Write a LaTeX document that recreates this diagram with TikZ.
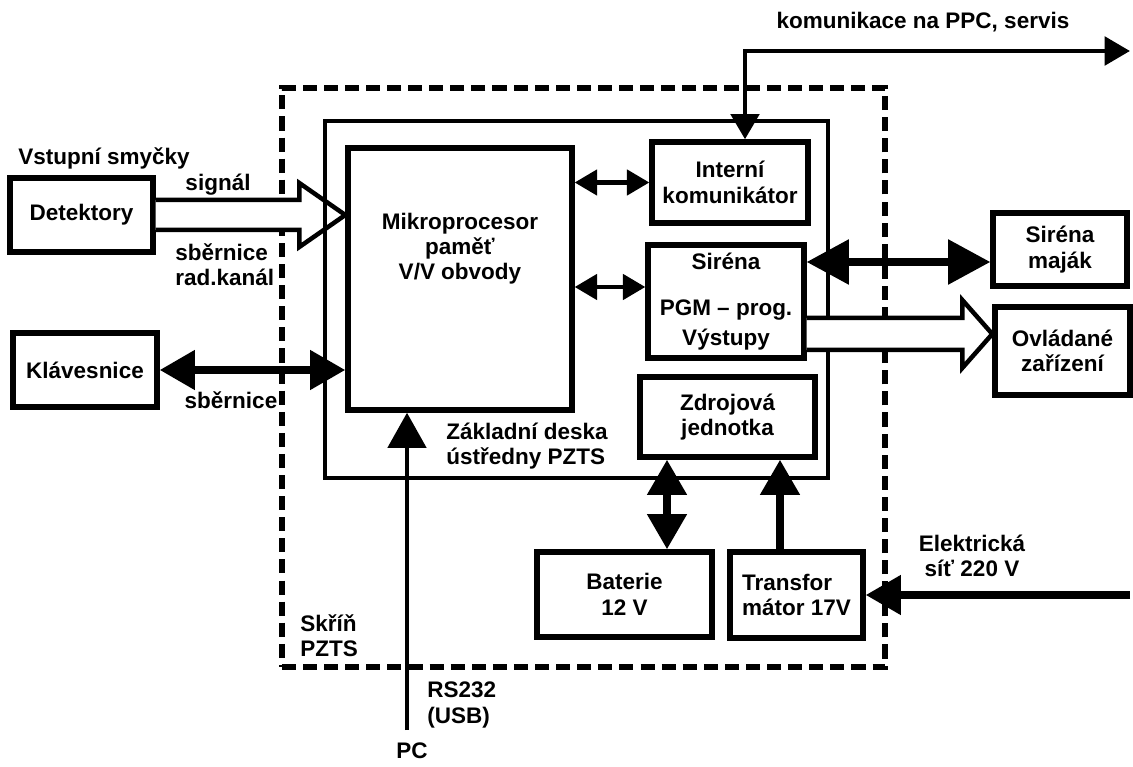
\documentclass[tikz,border=0pt]{standalone}
\usepackage{fontspec}
\setmainfont{Liberation Sans}
\usetikzlibrary{arrows.meta,positioning,calc}

\begin{document}
\begin{tikzpicture}[x=0.025cm, y=-0.025cm,
    font=\bfseries\fontsize{16}{18}\selectfont,
    box/.style={draw, line width=3.8pt, align=center, inner sep=2pt},
    txt/.style={inner sep=0pt, align=center},
    skrinbox/.style={draw, line width=4.5pt, dash pattern=on 10pt off 5pt},
    deskabox/.style={draw, line width=3.2pt},
    fat/.style={draw, fill=white, line width=3.2pt, line join=miter},
    heavy/.style={line width=5.5pt},
    bigtip/.tip={Triangle[length=25pt, width=27pt]},
    smalltip/.tip={Triangle[length=16pt, width=18pt]},
    comtip/.tip={Triangle[length=18pt, width=20pt]},
    sirtip/.tip={Triangle[length=30pt, width=31pt]}]
    \useasboundingbox (0,0) rectangle (1133,767);

    % housing
    \node[skrinbox, minimum width=15.075cm, minimum height=14.475cm] (skrin) at (583.5,377.5) {};

    % blocks
    \node[box, minimum width=3.575cm, minimum height=1.85cm] (det) at (81.5,215) {Detektory};
    \node[box, minimum width=3.6cm, minimum height=1.85cm] (klav) at (85,370) {Klávesnice};
    \node[box, minimum width=5.6cm, minimum height=6.55cm,
        label={[txt, anchor=north, yshift=-48pt]north:Mikroprocesor\\paměť\\V/V obvody}] (cpu) at (460,279) {};
    \node[box, minimum width=3.9cm, minimum height=2.025cm] (kom) at (730,182.5) {Interní\\komunikátor};
    \node[box, minimum width=3.9cm, minimum height=2.825cm] (sir) at (726,301.5) {Siréna\\[15pt]PGM -- prog.\\[3pt]Výstupy};
    \node[box, minimum width=4.375cm, minimum height=2cm] (zdroj) at (727.5,417) {Zdrojová\\jednotka};
    \node[box, minimum width=4.375cm, minimum height=2.125cm] (bat) at (624.5,594.5) {Baterie\\12 V};
    \node[box, align=left, minimum width=3.325cm, minimum height=2.15cm] (trafo) at (796.5,595) {Transfor\\mátor 17V};
    \node[box, minimum width=3.35cm, minimum height=1.825cm] (sirm) at (1060,249.5) {Siréna\\maják};
    \node[box, minimum width=3.375cm, minimum height=2.2cm] (ovl) at (1062.5,351) {Ovládané\\zařízení};

    % signal bus into the processor
    \draw[fat] ($(det.east)+(0,-15)$) -- ($(det.east -| cpu.west)+(-46,-15)$) -- ++(0,-17)
        -- (det.east -| cpu.west) -- ($(det.east -| cpu.west)+(-46,32)$) -- ++(0,-17)
        -- ($(det.east)+(0,15)$);

    % main board
    \node[deskabox, minimum width=12.575cm, minimum height=8.925cm] (deska) at (576.5,299.5) {};

    % texts
    \node[txt, anchor=west] (smycky) at (18,158) {Vstupní smyčky};
    \node[txt] (signal) at (218,185) {signál};
    \node[txt, anchor=west, align=left] (sbrad) at (175,265) {sběrnice\\rad.kanál};
    \node[txt] (sbklav) at (231,400) {sběrnice};
    \node[txt, anchor=west, align=left] (deskatxt) at (446,446) {Základní deska\\ústředny PZTS};
    \node[txt, anchor=west, align=left] (skrintxt) at (300,636) {Skříň\\PZTS};
    \node[txt] (ppc) at (923,22) {komunikace na PPC, servis};
    \node[txt] (sittxt) at (972,556) {Elektrická\\síť 220 V};
    \node[txt, anchor=west, align=left] (rs) at (427,705) {RS232\\(USB)};
    \node[txt] (pc) at (412,751) {PC};

    % outputs
    \coordinate (pgmy) at (0,334);
    \draw[fat] ($(sir.east |- pgmy)+(0,-16)$) -- ($(ovl.west |- pgmy)+(-30,-16)$) -- ++(0,-18)
        -- (ovl.west |- pgmy) -- ($(ovl.west |- pgmy)+(-30,34)$) -- ++(0,-18)
        -- ($(sir.east |- pgmy)+(0,16)$);
    \coordinate (sirmy) at (0,262);
    \draw[line width=5pt, sirtip-sirtip] (sir.east |- sirmy) -- (sirm.west |- sirmy);

    % internal links
    \coordinate (cpusir) at (0,287);
    \draw[line width=3pt, smalltip-smalltip] (cpu.east |- kom.west) -- (kom.west);
    \draw[line width=3pt, smalltip-smalltip] (cpu.east |- cpusir) -- (sir.west |- cpusir);
    \draw[heavy, bigtip-bigtip] (klav.east) -- (klav.east -| cpu.west);

    % communication
    \coordinate (komx) at (745,51);
    \coordinate (servis) at (1130,51);
    \draw[line width=3.5pt, comtip-comtip] (kom.north -| komx) -- (komx) -- (servis);

    % PC
    \coordinate (pcend) at (407,730);
    \draw[line width=3.5pt, -bigtip] (pcend) -- (cpu.south -| pcend);

    % power
    \coordinate (batx) at (667,0);
    \coordinate (trx) at (780,0);
    \coordinate (sitend) at (1130,595);
    \draw[heavy, bigtip-bigtip] (bat.north -| batx) -- (zdroj.south -| batx);
    \draw[heavy, -bigtip] (trafo.north -| trx) -- (zdroj.south -| trx);
    \draw[heavy, -bigtip] (sitend) -- (trafo.east |- sitend);
\end{tikzpicture}
\end{document}
